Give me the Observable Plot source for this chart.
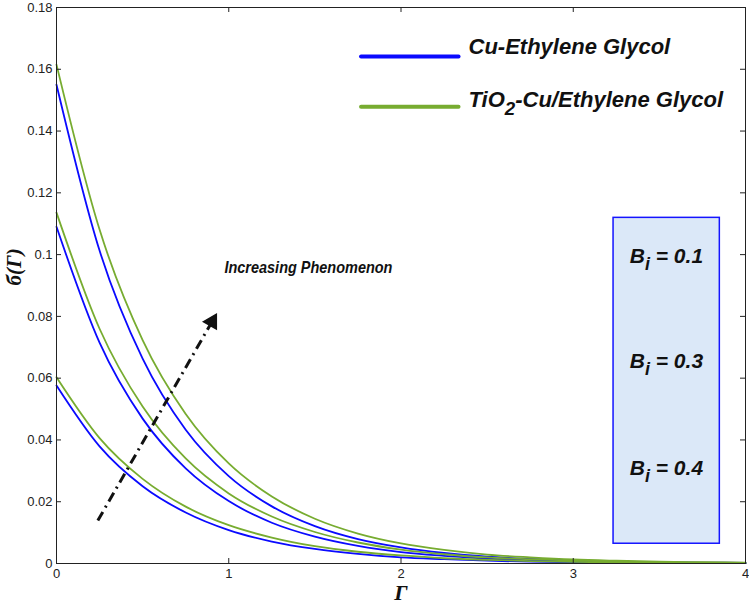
<!DOCTYPE html>
<html>
<head>
<meta charset="utf-8">
<script src="https://cdn.jsdelivr.net/npm/d3@7"></script>
<script src="https://cdn.jsdelivr.net/npm/@observablehq/plot@0.6"></script>
<style>
  html, body { margin: 0; padding: 0; background: white; }
</style>
</head>
<body>
<div id="chart"></div>
<script>
// ---- data ----
const gammaX = [0, 0.25, 0.5, 0.75, 1, 1.25, 1.5, 1.75, 2, 2.25, 2.5, 2.75, 3, 3.25, 3.5, 3.75, 4];

// Cu-Ethylene Glycol (blue)
const cuLow  = [0.0576, 0.0379, 0.0250, 0.0165, 0.0108, 0.0071, 0.0047, 0.0031, 0.0020, 0.0014, 0.0009, 0.0006, 0.0004, 0.0003, 0.0002, 0.0001, 0.0001];
const cuMid  = [0.1090, 0.0715, 0.0469, 0.0308, 0.0202, 0.0132, 0.0087, 0.0057, 0.0037, 0.0025, 0.0016, 0.0011, 0.0007, 0.0005, 0.0003, 0.0002, 0.0001];
const cuHigh = [0.1550, 0.1013, 0.0663, 0.0433, 0.0283, 0.0185, 0.0121, 0.0079, 0.0052, 0.0034, 0.0022, 0.0015, 0.0010, 0.0006, 0.0004, 0.0003, 0.0002];

// TiO2-Cu/Ethylene Glycol (green)
const hybLow  = [0.0603, 0.0406, 0.0274, 0.0184, 0.0124, 0.0084, 0.0056, 0.0038, 0.0026, 0.0017, 0.0012, 0.0008, 0.0005, 0.0004, 0.0002, 0.0002, 0.0001];
const hybMid  = [0.1136, 0.0760, 0.0508, 0.0340, 0.0227, 0.0152, 0.0102, 0.0068, 0.0045, 0.0030, 0.0020, 0.0014, 0.0009, 0.0006, 0.0004, 0.0003, 0.0002];
const hybHigh = [0.1615, 0.1081, 0.0723, 0.0484, 0.0324, 0.0217, 0.0145, 0.0097, 0.0065, 0.0044, 0.0029, 0.0020, 0.0013, 0.0009, 0.0006, 0.0004, 0.0003];

const xTicks = [0, 1, 2, 3, 4];
const yTicks = [0, 0.02, 0.04, 0.06, 0.08, 0.1, 0.12, 0.14, 0.16, 0.18];

const seriesNames = ["Cu-Ethylene Glycol", "TiO2-Cu/Ethylene Glycol"];
const seriesColors = ["#0a0aff", "#77ac30"];

// legend (in data units of the chart)
const legendLineX = [1.768, 2.334];
const legendY = [0.1641, 0.1479];
const legendTextY = [0.1673, 0.1500];
const legendTextX = 2.392;

// annotation
const annotText = "Increasing Phenomenon";
const annotPos = [0.975, 0.0958];
const arrowStart = [0.240, 0.0139];
const arrowHead = [0.903, 0.0783];

// Biot number box
const biBox = {x1: 3.234, x2: 3.851, y1: 0.0064, y2: 0.1119};
const biLabels = ["Bi = 0.1", "Bi = 0.3", "Bi = 0.4"];
const biLabelY = [0.0995, 0.0655, 0.0309];
const biLabelX = 3.541;

// ---- build tables ----
const curves = [
  {name: "cuLow", s: 0, v: cuLow}, {name: "cuMid", s: 0, v: cuMid}, {name: "cuHigh", s: 0, v: cuHigh},
  {name: "hybLow", s: 1, v: hybLow}, {name: "hybMid", s: 1, v: hybMid}, {name: "hybHigh", s: 1, v: hybHigh}
];
const table = curves.flatMap(c => gammaX.map((x, i) => ({x, y: c.v[i], curve: c.name, color: seriesColors[c.s]})));

const legendLines = seriesNames.flatMap((n, i) => legendLineX.map(x => ({x, y: legendY[i], name: n, color: seriesColors[i]})));
const legendTexts = seriesNames.map((n, i) => ({x: legendTextX, y: legendTextY[i], text: n}));
const biTexts = biLabels.map((t, i) => ({x: biLabelX, y: biLabelY[i], text: t}));

const W = 749, H = 608, mL = 56, mR = 4, mT = 7, mB = 45;
const innerW = W - mL - mR, innerH = H - mT - mB;
const tickLen = 5;
const serif = "'Liberation Serif', 'Times New Roman', serif";
const sans = "'Liberation Sans', Arial, sans-serif";

const chart = Plot.plot({
  width: W, height: H,
  marginLeft: mL, marginRight: mR, marginTop: mT, marginBottom: mB,
  x: {domain: [0, 4]},
  y: {domain: [0, 0.18]},
  style: {fontFamily: sans, background: "white", overflow: "visible"},
  marks: [
    Plot.rect([biBox], {x1: "x1", x2: "x2", y1: "y1", y2: "y2", fill: "#dbe8f8", stroke: "#1414ff", strokeWidth: 1.5}),
    Plot.line(table, {x: "x", y: "y", z: "curve", stroke: "color", strokeWidth: 1.8, curve: "monotone-x"}),
    // ticks pointing inward on all four sides
    Plot.tickX(xTicks.slice(1, -1), {x: d => d, insetTop: innerH - tickLen, stroke: "#222"}),
    Plot.tickX(xTicks.slice(1, -1), {x: d => d, insetBottom: innerH - tickLen, stroke: "#222"}),
    Plot.tickY(yTicks.slice(1, -1), {y: d => d, insetRight: innerW - tickLen, stroke: "#222"}),
    Plot.tickY(yTicks.slice(1, -1), {y: d => d, insetLeft: innerW - tickLen, stroke: "#222"}),
    Plot.frame({stroke: "#222", strokeWidth: 1}),
    Plot.axisX(xTicks, {tickSize: 0, tickPadding: 5, fontSize: 13, fill: "#222", tickFormat: d => String(d), label: null}),
    Plot.axisY(yTicks, {tickSize: 0, tickPadding: 4, fontSize: 13, fill: "#222", tickFormat: d => String(d), label: null}),
    // axis titles
    Plot.text(["Γ"], {frameAnchor: "bottom", dy: 36, fontSize: 22, fontFamily: serif, fontStyle: "italic", fontWeight: "bold", fill: "#111"}),
    Plot.text(["б(Γ)"], {frameAnchor: "left", dx: -42, rotate: -90, fontSize: 21, fontFamily: serif, fontStyle: "italic", fontWeight: "bold", fill: "#111"}),
    // legend
    Plot.line(legendLines, {x: "x", y: "y", z: "name", stroke: "color", strokeWidth: 4}),
    Plot.text(legendTexts, {x: "x", y: "y", text: "text", textAnchor: "start", fontSize: 22, fontStyle: "italic", fontWeight: "bold", fill: "#111"}),
    // annotation arrow
    Plot.link([{x1: arrowStart[0], y1: arrowStart[1], x2: arrowHead[0], y2: arrowHead[1]}],
      {x1: "x1", y1: "y1", x2: "x2", y2: "y2", stroke: "#111", strokeWidth: 3, strokeDasharray: "10,5,2,5"}),
    Plot.dot([{x: arrowHead[0], y: arrowHead[1]}], {x: "x", y: "y", symbol: "triangle", r: 5.5, fill: "#111", stroke: "#111", rotate: 30}),
    Plot.text([{x: annotPos[0], y: annotPos[1], text: annotText}], {x: "x", y: "y", text: "text", textAnchor: "start", fontSize: 17, fontStyle: "italic", fontWeight: "bold", fill: "#111"}),
    // Bi labels
    Plot.text(biTexts, {x: "x", y: "y", text: "text", textAnchor: "middle", fontSize: 21, fontStyle: "italic", fontWeight: "bold", fill: "#111"})
  ]
});

document.getElementById("chart").appendChild(chart);

// subscripts and annotation width
d3.select(chart).selectAll("text").each(function() {
  const t = this.textContent;
  const el = d3.select(this);
  let m;
  if (t === "TiO2-Cu/Ethylene Glycol") {
    el.text("");
    el.append("tspan").text("TiO");
    el.append("tspan").attr("dy", "0.42em").attr("font-size", "0.85em").text("2");
    el.append("tspan").attr("dy", "-0.36em").text("-Cu/Ethylene Glycol");
  } else if ((m = /^Bi = (.*)$/.exec(t))) {
    el.text("");
    el.append("tspan").text("B");
    el.append("tspan").attr("dy", "0.42em").attr("font-size", "0.85em").text("i");
    el.append("tspan").attr("dy", "-0.36em").text(" = " + m[1]);
  } else if (t === annotText) {
    el.attr("textLength", 168).attr("lengthAdjust", "spacingAndGlyphs");
  }
});
</script>
</body>
</html>
